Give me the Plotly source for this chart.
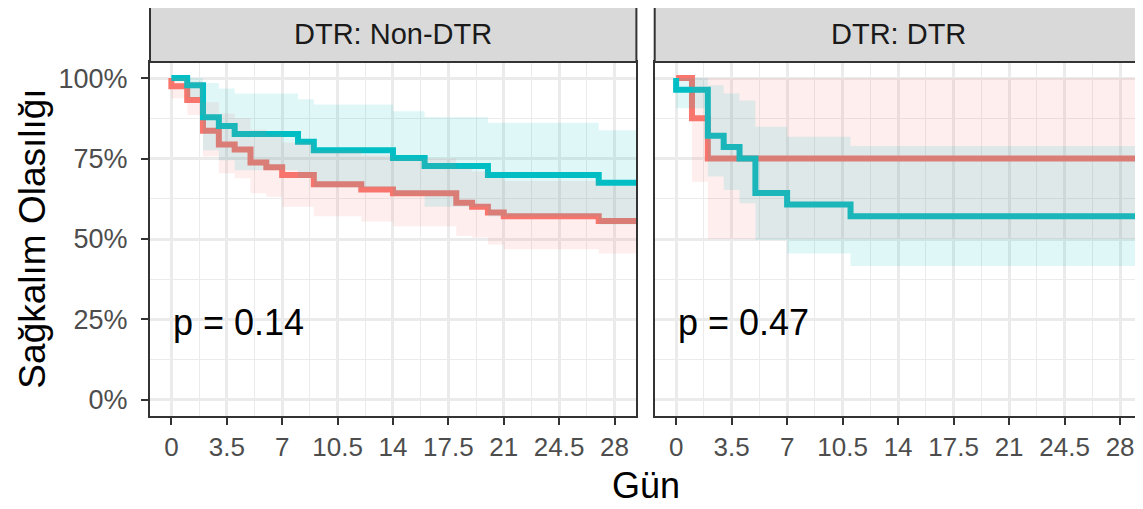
import plotly.graph_objects as go

# ---------------- data ----------------
panels = ["DTR: Non-DTR", "DTR: DTR"]
p_values = ["p = 0.14", "p = 0.47"]
end_day = 30

# Non-DTR panel, red group
nd_red_time = [0, 0, 1, 2, 3, 4, 5, 6, 7, 9, 12, 14, 18, 19, 20, 21, 27]
nd_red_surv = [1.0, 0.975, 0.932, 0.836, 0.794, 0.778, 0.738, 0.723, 0.699, 0.670, 0.654, 0.642, 0.613, 0.600, 0.582, 0.571, 0.556]
nd_red_upper = [1.0, 1.0, 0.99, 0.925, 0.89, 0.875, 0.84, 0.825, 0.80, 0.775, 0.76, 0.75, 0.72, 0.71, 0.69, 0.68, 0.665]
nd_red_lower = [1.0, 0.937, 0.885, 0.756, 0.704, 0.689, 0.642, 0.631, 0.600, 0.571, 0.554, 0.540, 0.510, 0.505, 0.483, 0.468, 0.455]

# Non-DTR panel, teal group
nd_teal_time = [0, 1, 2, 3, 4, 8, 9, 14, 16, 20, 27]
nd_teal_surv = [1.0, 0.978, 0.878, 0.851, 0.826, 0.802, 0.776, 0.752, 0.727, 0.699, 0.675]
nd_teal_upper = [1.0, 1.0, 0.985, 0.968, 0.952, 0.934, 0.918, 0.897, 0.878, 0.861, 0.838]
nd_teal_lower = [1.0, 0.94, 0.776, 0.745, 0.714, 0.69, 0.66, 0.635, 0.60, 0.57, 0.545]

# DTR panel, red group
d_red_time = [0, 1, 2]
d_red_surv = [1.0, 0.875, 0.75]
d_red_upper = [1.0, 1.0, 1.0]
d_red_lower = [1.0, 0.678, 0.50]

# DTR panel, teal group
d_teal_time = [0, 0, 2, 3, 4, 5, 7, 11]
d_teal_surv = [1.0, 0.964, 0.821, 0.786, 0.75, 0.643, 0.607, 0.571]
d_teal_upper = [1.0, 1.0, 0.978, 0.952, 0.93, 0.849, 0.818, 0.789]
d_teal_lower = [1.0, 0.906, 0.694, 0.652, 0.611, 0.497, 0.455, 0.416]

x_ticks = [0, 3.5, 7, 10.5, 14, 17.5, 21, 24.5, 28]
x_tick_labels = ["0", "3.5", "7", "10.5", "14", "17.5", "21", "24.5", "28"]
y_ticks = [0, 0.25, 0.5, 0.75, 1.0]
y_tick_labels = ["0%", "25%", "50%", "75%", "100%"]

RED = "#F8766D"
TEAL = "#00BFC4"
RED_FILL = "rgba(248,118,109,0.12)"
TEAL_FILL = "rgba(0,191,196,0.12)"
FONT = "Liberation Sans, Arial, sans-serif"

fig = go.Figure()


def ext(t, v):
    return list(t) + [end_day], list(v) + [v[-1]]


groups = [
    (1, nd_red_time, nd_red_surv, nd_red_upper, nd_red_lower, RED, RED_FILL),
    (1, nd_teal_time, nd_teal_surv, nd_teal_upper, nd_teal_lower, TEAL, TEAL_FILL),
    (2, d_red_time, d_red_surv, d_red_upper, d_red_lower, RED, RED_FILL),
    (2, d_teal_time, d_teal_surv, d_teal_upper, d_teal_lower, TEAL, TEAL_FILL),
]

# lines first
for col, t, s, u, l, c, fc in groups:
    xs, ys = ext(t, s)
    xa = "x" if col == 1 else "x2"
    ya = "y" if col == 1 else "y2"
    fig.add_trace(go.Scatter(x=xs, y=ys, mode="lines", line=dict(color=c, width=6, shape="hv"),
                             xaxis=xa, yaxis=ya, showlegend=False, hoverinfo="skip"))

# ribbons on top
for col, t, s, u, l, c, fc in groups:
    xa = "x" if col == 1 else "x2"
    ya = "y" if col == 1 else "y2"
    xs, yl = ext(t, l)
    _, yu = ext(t, u)
    fig.add_trace(go.Scatter(x=xs, y=yl, mode="lines", line=dict(width=0, shape="hv"),
                             xaxis=xa, yaxis=ya, showlegend=False, hoverinfo="skip"))
    fig.add_trace(go.Scatter(x=xs, y=yu, mode="lines", line=dict(width=0, shape="hv"),
                             fill="tonexty", fillcolor=fc,
                             xaxis=xa, yaxis=ya, showlegend=False, hoverinfo="skip"))

# page body has an 8px margin: work in window pixels and shift
OFF = 8
W, H = 1143 - OFF, 509 - OFF
P_LEFT, P_RIGHT_END = 150.3, 1141.7       # window px
P_TOP, P_BOTTOM = 62, 416
ML = P_LEFT - OFF
MT = P_TOP - OFF
MR = (1143 - OFF) - (P_RIGHT_END - OFF)
MB = H - (P_BOTTOM - OFF)
pw = W - ML - MR
ph = H - MT - MB


def px_x(wx):
    return (wx - OFF - ML) / pw


def px_y(wy):
    return (H - MB - (wy - OFF)) / ph


left_dom = [0, px_x(636.4)]
right_dom = [px_x(654.7), 1]
xr = [-1.35, 29.38]
yr = [-0.05, 1.05]

xcommon = dict(range=xr, tickvals=x_ticks, ticktext=x_tick_labels, ticks="outside", ticklen=7,
               tickwidth=2, tickcolor="#333333", showgrid=True, gridcolor="#EBEBEB", gridwidth=2.5,
               minor=dict(tickvals=[1.75 + 3.5 * i for i in range(9)], showgrid=True,
                          gridcolor="#EBEBEB", gridwidth=1.3, ticks=""),
               showline=True, linecolor="#333333", linewidth=2, mirror=True, zeroline=False,
               tickfont=dict(family=FONT, size=26, color="#4D4D4D"), fixedrange=True)
ycommon = dict(range=yr, tickvals=y_ticks, showgrid=True, gridcolor="#EBEBEB", gridwidth=2.5,
               minor=dict(tickvals=[0.125, 0.375, 0.625, 0.875], showgrid=True,
                          gridcolor="#EBEBEB", gridwidth=1.3, ticks=""),
               showline=True, linecolor="#333333", linewidth=2, mirror=True, zeroline=False,
               fixedrange=True)

fig.update_layout(
    width=W, height=H,
    margin=dict(l=ML, r=MR, t=MT, b=MB, autoexpand=False),
    paper_bgcolor="white", plot_bgcolor="white",
    xaxis=dict(domain=left_dom, anchor="y", **xcommon),
    xaxis2=dict(domain=right_dom, anchor="y2", **xcommon),
    yaxis=dict(domain=[0, 1], anchor="x", ticktext=y_tick_labels, ticks="outside", ticklen=7,
               tickwidth=2, tickcolor="#333333", ticklabelstandoff=8,
               tickfont=dict(family=FONT, size=27, color="#4D4D4D"), **ycommon),
    yaxis2=dict(domain=[0, 1], anchor="x2", showticklabels=False, ticks="", **ycommon),
    showlegend=False,
)

strip_top = px_y(6)
shapes = []
annotations = []
for dom, name in zip([left_dom, right_dom], panels):
    shapes.append(dict(type="rect", xref="paper", yref="paper", x0=dom[0], x1=dom[1],
                       y0=1.0, y1=strip_top, fillcolor="#D9D9D9",
                       line=dict(color="#333333", width=2)))
    annotations.append(dict(xref="paper", yref="paper", x=(dom[0] + dom[1]) / 2,
                            y=(1.0 + strip_top) / 2, text=name, showarrow=False,
                            xanchor="center", yanchor="middle",
                            font=dict(family=FONT, size=29, color="#1A1A1A")))

for xa, ya, p in [("x", "y", p_values[0]), ("x2", "y2", p_values[1])]:
    annotations.append(dict(xref=xa, yref=ya, x=0, y=0.24, text=p, showarrow=False,
                            xanchor="left", yanchor="middle",
                            font=dict(family=FONT, size=36, color="black")))

annotations.append(dict(xref="paper", yref="paper", x=px_x(646), y=px_y(485),
                        text="Gün", showarrow=False, xanchor="center", yanchor="middle",
                        font=dict(family=FONT, size=36, color="black")))
annotations.append(dict(xref="paper", yref="paper", x=px_x(32), y=0.5,
                        text="Sağkalım Olasılığı", showarrow=False, textangle=-90,
                        xanchor="center", yanchor="middle",
                        font=dict(family=FONT, size=37, color="black")))

fig.update_layout(shapes=shapes, annotations=annotations)
fig.write_html("out.html", default_width=f"{W}px", default_height=f"{H}px",
               post_script="document.documentElement.style.overflow='hidden';"
                           "document.body.style.overflow='hidden';")
